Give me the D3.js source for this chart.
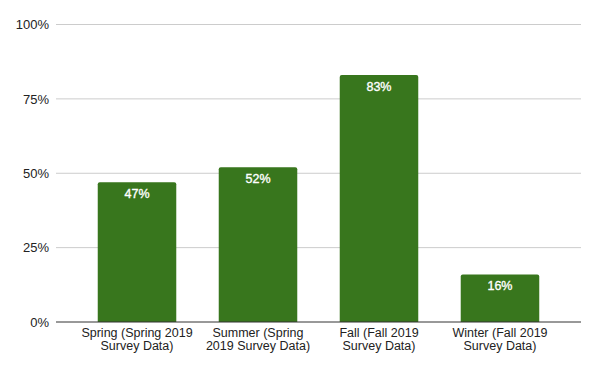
<!DOCTYPE html>
<html><head><meta charset="utf-8">
<script src="https://cdn.jsdelivr.net/npm/d3@7"></script>
<style>body{margin:0;background:#fff}svg{display:block;font-family:"Liberation Sans",Arial,Helvetica,sans-serif}</style>
</head><body><div id="chart"></div>
<script>
const categories = [["Spring (Spring 2019","Survey Data)"],["Summer (Spring","2019 Survey Data)"],["Fall (Fall 2019","Survey Data)"],["Winter (Fall 2019","Survey Data)"]];
const values = [0.47, 0.52, 0.83, 0.16];
const yTicks = [0, 0.25, 0.5, 0.75, 1];

(function(){
const W = 600, H = 371;
const mL = 56, mR = 581, mT = 24.5, mB = 322;
const svg = d3.select("#chart").append("svg").attr("width", W).attr("height", H);

const x = d3.scaleBand().domain(d3.range(values.length)).range([mL, mR]).paddingInner(0.351).paddingOuter(0.345);
const y = d3.scaleLinear().domain([0, 1]).range([mB, mT]);

// gridlines
svg.append("g").selectAll("line").data(yTicks.filter(d => d > 0)).join("line")
  .attr("x1", mL).attr("x2", mR)
  .attr("y1", d => y(d)).attr("y2", d => y(d))
  .attr("stroke", "#cccccc").attr("stroke-width", 1);

// y labels
const yAxis = d3.axisLeft(y).tickValues(yTicks).tickFormat(d3.format(".0%")).tickSize(0).tickPadding(7);
const ya = svg.append("g").attr("transform", `translate(${mL},0)`).call(yAxis);
ya.select(".domain").remove();
ya.selectAll("text").attr("font-size", 13).attr("fill", "#222").attr("font-family", '"Liberation Sans",Arial,sans-serif');

// bars
const r = 2;
svg.append("g").selectAll("path").data(values).join("path")
  .attr("fill", "#38761d")
  .attr("d", (d, i) => {
    const x0 = x(i), x1 = x(i) + x.bandwidth(), y0 = y(d), y1 = y(0);
    return `M${x0},${y1}V${y0 + r}Q${x0},${y0} ${x0 + r},${y0}H${x1 - r}Q${x1},${y0} ${x1},${y0 + r}V${y1}Z`;
  });

// value labels
svg.append("g").selectAll("text").data(values).join("text")
  .attr("x", (d, i) => x(i) + x.bandwidth() / 2)
  .attr("y", d => y(d) + 15.5)
  .attr("text-anchor", "middle")
  .attr("fill", "#ffffff").attr("stroke", "#ffffff").attr("stroke-width", 0.35)
  .attr("font-size", 12.5)
  .text(d => d3.format(".0%")(d));

// zero line
svg.append("line").attr("x1", mL).attr("x2", mR).attr("y1", y(0)).attr("y2", y(0))
  .attr("stroke", "#333").attr("stroke-width", 1);

// x labels
const xl = svg.append("g").selectAll("text").data(categories).join("text")
  .attr("text-anchor", "middle").attr("font-size", 12.5).attr("fill", "#222");
xl.each(function(d, i) {
  const t = d3.select(this);
  d.forEach((line, j) => {
    t.append("tspan").attr("x", x(i) + x.bandwidth() / 2).attr("y", 337.3 + j * 12.5).text(line);
  });
});
})();
</script></body></html>
